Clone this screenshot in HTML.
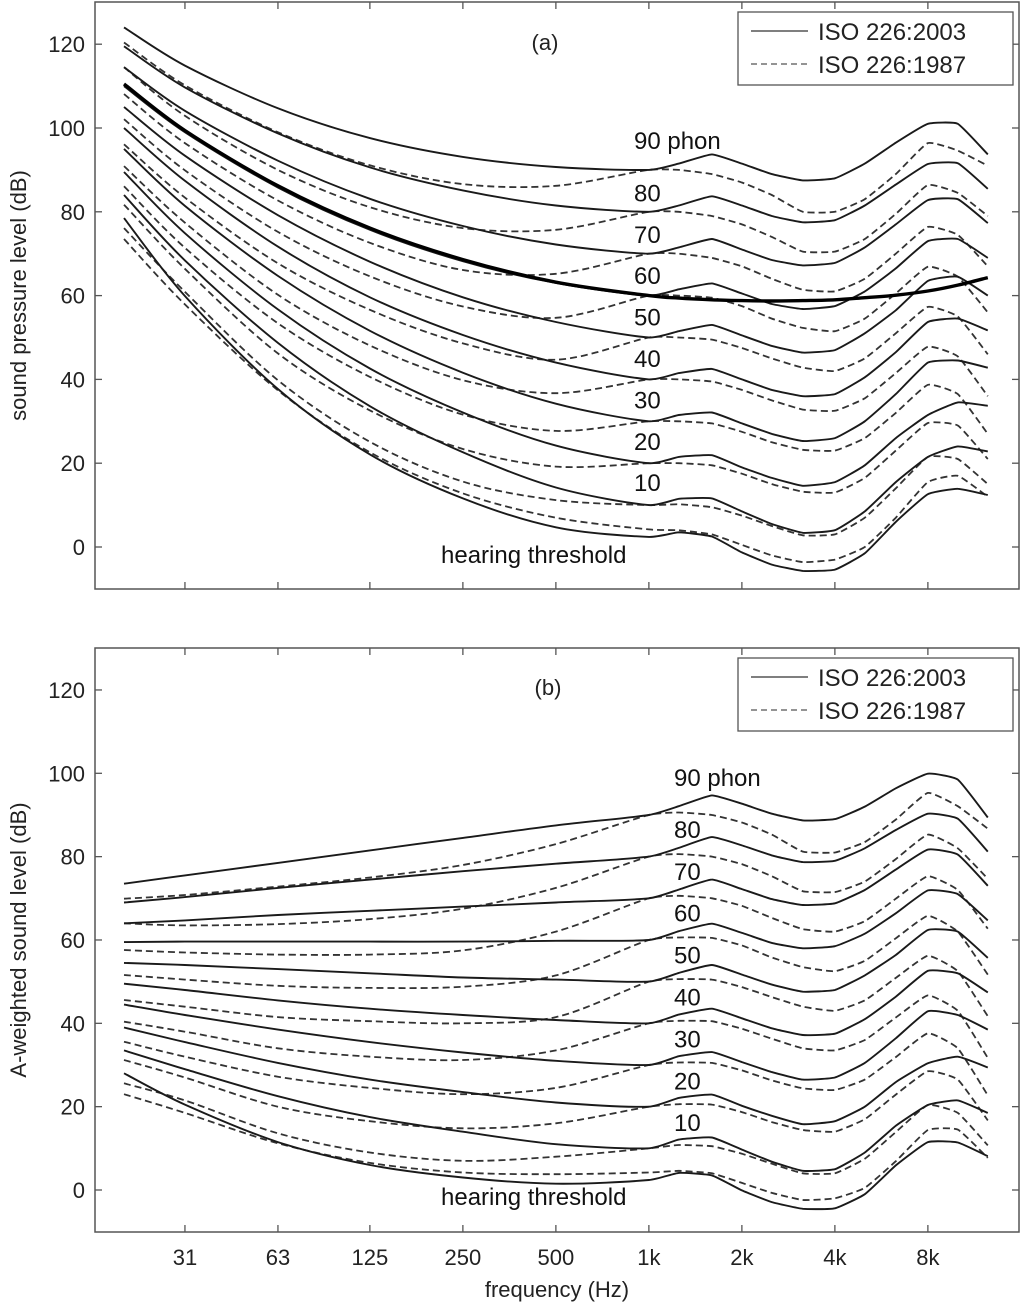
<!DOCTYPE html>
<html><head><meta charset="utf-8">
<style>
html,body{margin:0;padding:0;background:#fff;}
svg{display:block;font-family:"Liberation Sans",Arial,sans-serif;}
</style></head>
<body>
<svg id="chart" width="1024" height="1308" viewBox="0 0 1024 1308" xmlns="http://www.w3.org/2000/svg">
<defs>
<clipPath id="clipA"><rect x="95" y="2" width="924" height="587"/></clipPath>
<clipPath id="clipB"><rect x="95" y="648" width="924" height="584"/></clipPath>
</defs>
<g id="root"></g>
</svg>
<script>
// frequencies (Hz)
const freqs = [20,31.5,63,125,250,500,1000,1250,1600,2000,2500,3150,4000,5000,6300,8000,10000,12500];
const levels = ["hearing threshold","10","20","30","40","50","60","70","80","90"];
// ISO 226:2003 contours (dB SPL)
const iso2003Thr = [78.5,59.9,37.7,22.1,11.6,4.7,2.4,3.5,2.5,-1.3,-4.2,-5.7,-5.4,-1.5,6.0,12.6,13.9,12.4];
const iso2003P10 = [84,68.4,48.7,33.6,22.6,14.2,10,11.5,11.6,8.5,5.5,3.4,4,8.5,15.5,21.5,24,22.8];
const iso2003P20 = [89.5,74.9,56.7,42.6,32.1,24.2,20,21.5,21.9,19,16.5,14.6,15.5,19.5,26,31.5,34.5,33.7];
const iso2003P30 = [95,81.4,64.7,51.6,41.6,34.2,30,31.5,32.1,29.5,27,25.3,26,30,36.5,44,44.5,42.8];
const iso2003P40 = [100,87.4,71.7,59.6,50.6,44,40,41.5,42.5,40,37.5,36,36.5,40.5,46.5,53.7,54.5,51.7];
const iso2003P50 = [105,93.4,79.2,68.1,59.6,53.7,50,51.5,53,50.5,48,46.4,47,51,56.5,63.5,64.5,60];
const iso2003P60 = [110,99,85.8,75.7,68.2,63,60,61.5,62.9,60.5,58,56.8,57.5,61,66.5,73,73.5,69];
const iso2003P70 = [114.5,104.1,92.2,83.1,76.6,72.2,70,71.5,73.5,71,68.5,67.2,67.8,71.5,77,82.8,83,77.3];
const iso2003P80 = [119.5,109.7,98.7,90.6,85.1,81.5,80,81.5,83.7,81.5,79,77.5,78,81.5,86.5,91.4,91.6,85.5];
const iso2003P90 = [124,114.9,104.7,97.6,93.1,90.7,90,91.5,93.7,91.5,89,87.5,88,91.5,96.5,101,101,93.7];
// ISO 226:1987 contours (dB SPL)
const iso1987Thr = [73.5,57.9,37.4,22.6,12.8,7,4.2,4,3,0.5,-2,-3.6,-3,0,7,15.5,17,12];
const iso1987P10 = [76.1,60.9,39.8,25.1,15.6,11.2,10,10.2,9.5,7.5,5,2.8,3,7,14,21.5,21,15];
const iso1987P20 = [81.7,66.4,46.2,32.6,23.4,19.2,20,20,19.5,17.5,15,13.2,13,16.5,23,29.6,29,21];
const iso1987P30 = [86.1,71.4,53.4,40.6,31.6,27.7,30,30,29.5,27.5,25,23.2,23,26,32,38.7,36.5,27];
const iso1987P40 = [90.9,77.4,60.2,48.1,39.8,36.7,40,40,39.5,37.5,35,32.8,32.5,35.5,41.5,47.8,45.5,36];
const iso1987P50 = [96.1,83.4,67.7,56.6,48.6,44.7,50,50,49.5,47.5,45,42.8,42,45,51,57.3,55,46];
const iso1987P60 = [102.1,89.9,75.2,64.6,57.4,54.7,60,60,59.5,57.5,54.5,52.3,51.5,54.5,60.5,66.9,64.5,56];
const iso1987P70 = [108.1,96.4,82.7,72.6,66.1,65.2,70,70,69,67,64,61.4,61,64,70,76.4,74.5,67];
const iso1987P80 = [114.5,102.9,90,81.1,76.1,75.7,80,80,79,77,74,70.5,70.5,73.5,79.5,86.4,84.5,79];
const iso1987P90 = [120.4,110.2,99,91.1,86.6,86.2,90,90,89,87,84,80,80,83,89,96.4,94.6,91];
// A-weighting (dB) at freqs
const aWeight = [-50.5,-39.4,-26.2,-16.1,-8.6,-3.2,0,0.6,1.0,1.2,1.3,1.2,1.0,0.5,-0.1,-1.1,-2.5,-4.3];
const refLevel = 60;
const xTickFreqs = [31.5,63,125,250,500,1000,2000,4000,8000];
const xTickLabels = ["31","63","125","250","500","1k","2k","4k","8k"];
const yTicks = [0,20,40,60,80,100,120];

const solidSeries = [iso2003Thr,iso2003P10,iso2003P20,iso2003P30,iso2003P40,iso2003P50,iso2003P60,iso2003P70,iso2003P80,iso2003P90];
const dashedSeries = [iso1987Thr,iso1987P10,iso1987P20,iso1987P30,iso1987P40,iso1987P50,iso1987P60,iso1987P70,iso1987P80,iso1987P90];

const NS = "http://www.w3.org/2000/svg";
const root = document.getElementById("root");
function mk(tag, attrs, parent){ const e=document.createElementNS(NS,tag); for(const k in attrs) e.setAttribute(k,attrs[k]); (parent||root).appendChild(e); return e; }
function xScale(f){ return 124 + Math.log2(f/20)*93; }
const panels = [
  {id:"a", top:2, bottom:589, y0:547, k:4.19, clip:"clipA", title:"sound pressure level (dB)", tag:"(a)", weight:false},
  {id:"b", top:648, bottom:1232, y0:1190, k:4.167, clip:"clipB", title:"A-weighted sound level (dB)", tag:"(b)", weight:true}
];
function pathFrom(pts, fr){
  let d = "M"+pts[0][0].toFixed(1)+","+pts[0][1].toFixed(1);
  for(let i=0;i<pts.length-1;i++){
    const p0=pts[Math.max(0,i-1)], p1=pts[i], p2=pts[i+1], p3=pts[Math.min(pts.length-1,i+2)];
    const t = fr[i] >= 1000 ? 0.07 : 0.16;
    const c1=[p1[0]+(p2[0]-p0[0])*t, p1[1]+(p2[1]-p0[1])*t];
    const c2=[p2[0]-(p3[0]-p1[0])*t, p2[1]-(p3[1]-p1[1])*t];
    d += " C"+c1[0].toFixed(1)+","+c1[1].toFixed(1)+" "+c2[0].toFixed(1)+","+c2[1].toFixed(1)+" "+p2[0].toFixed(1)+","+p2[1].toFixed(1);
  }
  return d;
}
panels.forEach(P=>{
  const y = v => P.y0 - v*P.k;
  const g = mk("g",{});
  
  
  const frame = mk("rect",{x:95,y:P.top,width:924,height:P.bottom-P.top,fill:"none",stroke:"#555","stroke-width":1.5},g);
  
  
  yTicks.forEach(v=>{
    const yy=y(v);
    mk("line",{x1:95,x2:102,y1:yy,y2:yy,stroke:"#555","stroke-width":1.3},g);
    mk("line",{x1:1012,x2:1019,y1:yy,y2:yy,stroke:"#555","stroke-width":1.3},g);
    const t=mk("text",{x:85,y:yy+8,"text-anchor":"end","font-size":22,fill:"#222"},g);
    t.textContent=v;
    
    
  });
  xTickFreqs.forEach((f,i)=>{
    const xx=xScale(f);
    mk("line",{x1:xx,x2:xx,y1:P.bottom,y2:P.bottom-7,stroke:"#555","stroke-width":1.3},g);
    mk("line",{x1:xx,x2:xx,y1:P.top,y2:P.top+7,stroke:"#555","stroke-width":1.3},g);
    if(P.weight){
      const t=mk("text",{x:xx,y:1265,"text-anchor":"middle","font-size":22,fill:"#222"},g);
      t.textContent=xTickLabels[i];
      
      
    }
  });
  const cy=(P.top+P.bottom)/2;
  const yt=mk("text",{x:0,y:0,"text-anchor":"middle","font-size":22,fill:"#222",transform:"translate(26,"+cy+") rotate(-90)"},g);
  yt.textContent=P.title;
  
  
  const cg = mk("g",{"clip-path":"url(#"+P.clip+")"},g);
  function draw(series, dashed, idx){
    const pts = freqs.map((f,i)=>[xScale(f), y(series[i] + (P.weight?aWeight[i]:0))]);
    const p = mk("path",{d:pathFrom(pts,freqs),fill:"none",stroke:dashed?"#333":"#1a1a1a","stroke-width":dashed?1.8:1.9,"stroke-dasharray":dashed?"7 4":"none"},cg);
    
    
  }
  dashedSeries.forEach((s,i)=>draw(s,true,i));
  solidSeries.forEach((s,i)=>draw(s,false,i));
  if(!P.weight){
    const pts = freqs.map((f,i)=>[xScale(f), y(refLevel - aWeight[i])]);
    const b = mk("path",{d:pathFrom(pts,freqs.map(()=>0)),fill:"none",stroke:"#000","stroke-width":3.4},cg);
    
    
  }
  const lx = P.weight ? 674 : 634;
  for(let i=1;i<=9;i++){
    const baseY = P.weight ? (777 + (i===9?0:(9-i)*41.9+10)) : (140 + (i===9?0:(9-i)*41.4+11));
    const t=mk("text",{x:lx,y:baseY+9,"font-size":24,fill:"#111"},g);
    t.textContent = i===9 ? "90 phon" : levels[i];
    
    
  }
  const ht=mk("text",{x:441,y:(P.weight?1205:563),"font-size":24,fill:"#111"},g);
  ht.textContent="hearing threshold";
  
  
  const tg=mk("text",{x:(P.weight?548:545),y:(P.weight?695:50),"text-anchor":"middle","font-size":22,fill:"#222"},g);
  tg.textContent=P.tag;
  
  
  const ly = P.top + 10;
  const lg = mk("g",{},g);
  
  
  mk("rect",{x:738,y:ly,width:275,height:73,fill:"#fff",stroke:"#555","stroke-width":1.3},lg);
  mk("line",{x1:751,x2:808,y1:ly+19,y2:ly+19,stroke:"#333","stroke-width":1.3},lg);
  mk("line",{x1:751,x2:808,y1:ly+52,y2:ly+52,stroke:"#555","stroke-width":1.3,"stroke-dasharray":"6 4"},lg);
  const l1=mk("text",{x:818,y:ly+28,"font-size":24,fill:"#222"},lg);
  l1.textContent="ISO 226:2003";
  
  
  const l2=mk("text",{x:818,y:ly+61,"font-size":24,fill:"#222"},lg);
  l2.textContent="ISO 226:1987";
  
  
});
const xt=mk("text",{x:557,y:1297,"text-anchor":"middle","font-size":22,fill:"#222"});
xt.textContent="frequency (Hz)";


</script>
</body></html>
